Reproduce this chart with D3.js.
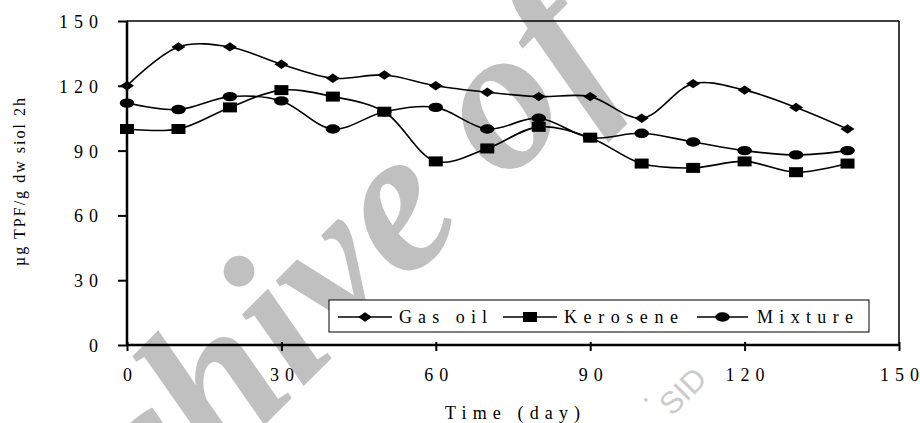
<!DOCTYPE html>
<html><head><meta charset="utf-8">
<script src="https://cdn.jsdelivr.net/npm/d3@7"></script>
<style>body{margin:0;background:#fff}svg{display:block}text{font-family:"Liberation Serif","Times New Roman",serif}</style>
</head><body><svg id="c" width="920" height="423"></svg>
<script>
const days = [0,10,20,30,40,50,60,70,80,90,100,110,120,130,140];
const gasOil = [120,138,138,130,123.5,125,120,117,115,115,105,121,118,110,100];
const kerosene = [100,100,110,118,115,108,85,91,101,96,84,82,85,80,84];
const mixture = [112,109,115,113,100,108,110,100,105,96,98,94,90,88,90];
const xTicks = [0,30,60,90,120,150];
const yTicks = [0,30,60,90,120,150];
const seriesNames = ["Gas oil","Kerosene","Mixture"];
const xTitle = "Time (day)";
const yTitle = "µg TPF/g dw siol 2h";

const svg = d3.select("#c");
const L=127,R=899,T=21,B=345;
const x = d3.scaleLinear().domain([0,150]).range([L,R]);
const y = d3.scaleLinear().domain([0,150]).range([B,T]);

// watermark
const wm = svg.append("g");
const FS=205, ROT=-45, TH=ROT*Math.PI/180;
const wt = wm.append("text").attr("font-size",FS).attr("font-style","italic").attr("font-weight","bold")
  .attr("fill","#c0c0c0").text("Archive of");
{
  const node=wt.node();
  const d=node.getSubStringLength(0,8), wo=node.getSubStringLength(8,1);
  const u=[Math.cos(TH),Math.sin(TH)], up=[Math.sin(TH),-Math.cos(TH)];
  const along=d+wo/2, perp=0.23*FS;
  const cx=508, cy=115;
  const px=cx-along*u[0]-perp*up[0], py=cy-along*u[1]-perp*up[1];
  wt.attr("transform",`translate(${px},${py}) rotate(${ROT})`);
}
wm.append("text").attr("transform","translate(672,417) rotate(-45)")
  .attr("font-size",31).style("font-family","'Liberation Sans', Arial, sans-serif")
  .attr("fill","#cccccc").text("SID");
wm.append("text").attr("transform","translate(644,404) rotate(-45)")
  .attr("font-size",31).style("font-family","'Liberation Sans', Arial, sans-serif")
  .attr("fill","#cccccc").text(".");

// frame
svg.append("line").attr("x1",L).attr("x2",R).attr("y1",T).attr("y2",T).attr("stroke","#000").attr("stroke-width",1.5);
svg.append("line").attr("x1",R).attr("x2",R).attr("y1",T).attr("y2",B).attr("stroke","#000").attr("stroke-width",1.5);

// axes
const xa = svg.append("g").attr("transform",`translate(0,${B})`)
  .call(d3.axisBottom(x).tickValues(xTicks).tickSize(6).tickFormat(d=>String(d)));
const ya = svg.append("g").attr("transform",`translate(${L},0)`)
  .call(d3.axisLeft(y).tickValues(yTicks).tickSize(9).tickFormat(d=>String(d)));
[xa,ya].forEach(a=>{a.select(".domain").attr("stroke","#000").attr("stroke-width",2.5);
  a.selectAll(".tick line").attr("stroke","#000").attr("stroke-width",2);
  a.selectAll("text").attr("font-family","Liberation Serif, serif").attr("font-size",18).attr("fill","#000");});
xa.select(".domain").attr("d",`M${L},0H${R}`);
ya.select(".domain").attr("d",`M0,${B}V${T}`);
xa.selectAll(".tick line").attr("y1",-3);
const tw = d => String(d).length===1 ? 9 : (String(d).length===2 ? 24 : 39);
xa.selectAll(".tick text").attr("y",23).attr("dy","0.71em").attr("text-anchor","start")
  .attr("x",d=>-tw(d)/2).each(function(d){ if(String(d).length>1) d3.select(this).attr("textLength",tw(d)).attr("lengthAdjust","spacing");});
ya.selectAll(".tick text").attr("text-anchor","start").attr("dy","0.36em")
  .attr("x",d=>-29-tw(d)).each(function(d){ if(String(d).length>1) d3.select(this).attr("textLength",tw(d)).attr("lengthAdjust","spacing");});

// lines
const line = d3.line().x(d=>x(d[0])).y(d=>y(d[1])).curve(d3.curveCatmullRom.alpha(0.5));
const data = [gasOil,kerosene,mixture].map(v=>days.map((d,i)=>[d,v[i]]));
const g = svg.append("g");
data.forEach(s=>g.append("path").attr("d",line(s)).attr("fill","none").attr("stroke","#000").attr("stroke-width",1.6));
function marker(sel,k,cx,cy){
  if(k===0) sel.append("path").attr("d",`M${cx},${cy-4.7}L${cx+7},${cy}L${cx},${cy+4.7}L${cx-7},${cy}Z`).attr("fill","#000");
  else if(k===1) sel.append("rect").attr("x",cx-7).attr("y",cy-5).attr("width",14).attr("height",10).attr("fill","#000");
  else sel.append("ellipse").attr("cx",cx).attr("cy",cy).attr("rx",7.3).attr("ry",4.7).attr("fill","#000");
}
[2,0,1].forEach(k=>data[k].forEach(p=>marker(g,k,x(p[0]),y(p[1]))));

// legend
const lg = svg.append("g");
lg.append("rect").attr("x",329).attr("y",300).attr("width",540).attr("height",32).attr("fill","#fff").attr("stroke","#000").attr("stroke-width",1);
const items=[{x1:338,x2:392,tx:399,w:88},{x1:503,x2:557,tx:564,w:114},{x1:697,x2:748,tx:757,w:96}];
items.forEach((it,k)=>{
  lg.append("line").attr("x1",it.x1).attr("x2",it.x2).attr("y1",317).attr("y2",317).attr("stroke","#000").attr("stroke-width",1.5);
  marker(lg,k,(it.x1+it.x2)/2,317);
  lg.append("text").attr("x",it.tx).attr("y",323).attr("font-size",18)
    .attr("textLength",it.w).attr("lengthAdjust","spacing").text(seriesNames[k]);
});

// titles
svg.append("text").attr("x",445).attr("y",419).attr("font-size",18)
  .attr("textLength",135).attr("lengthAdjust","spacing").text(xTitle);
svg.append("text").attr("transform","translate(25,182) rotate(-90)").attr("text-anchor","middle").attr("font-size",16)
  .attr("textLength",168).attr("lengthAdjust","spacing").text(yTitle);
</script></body></html>
